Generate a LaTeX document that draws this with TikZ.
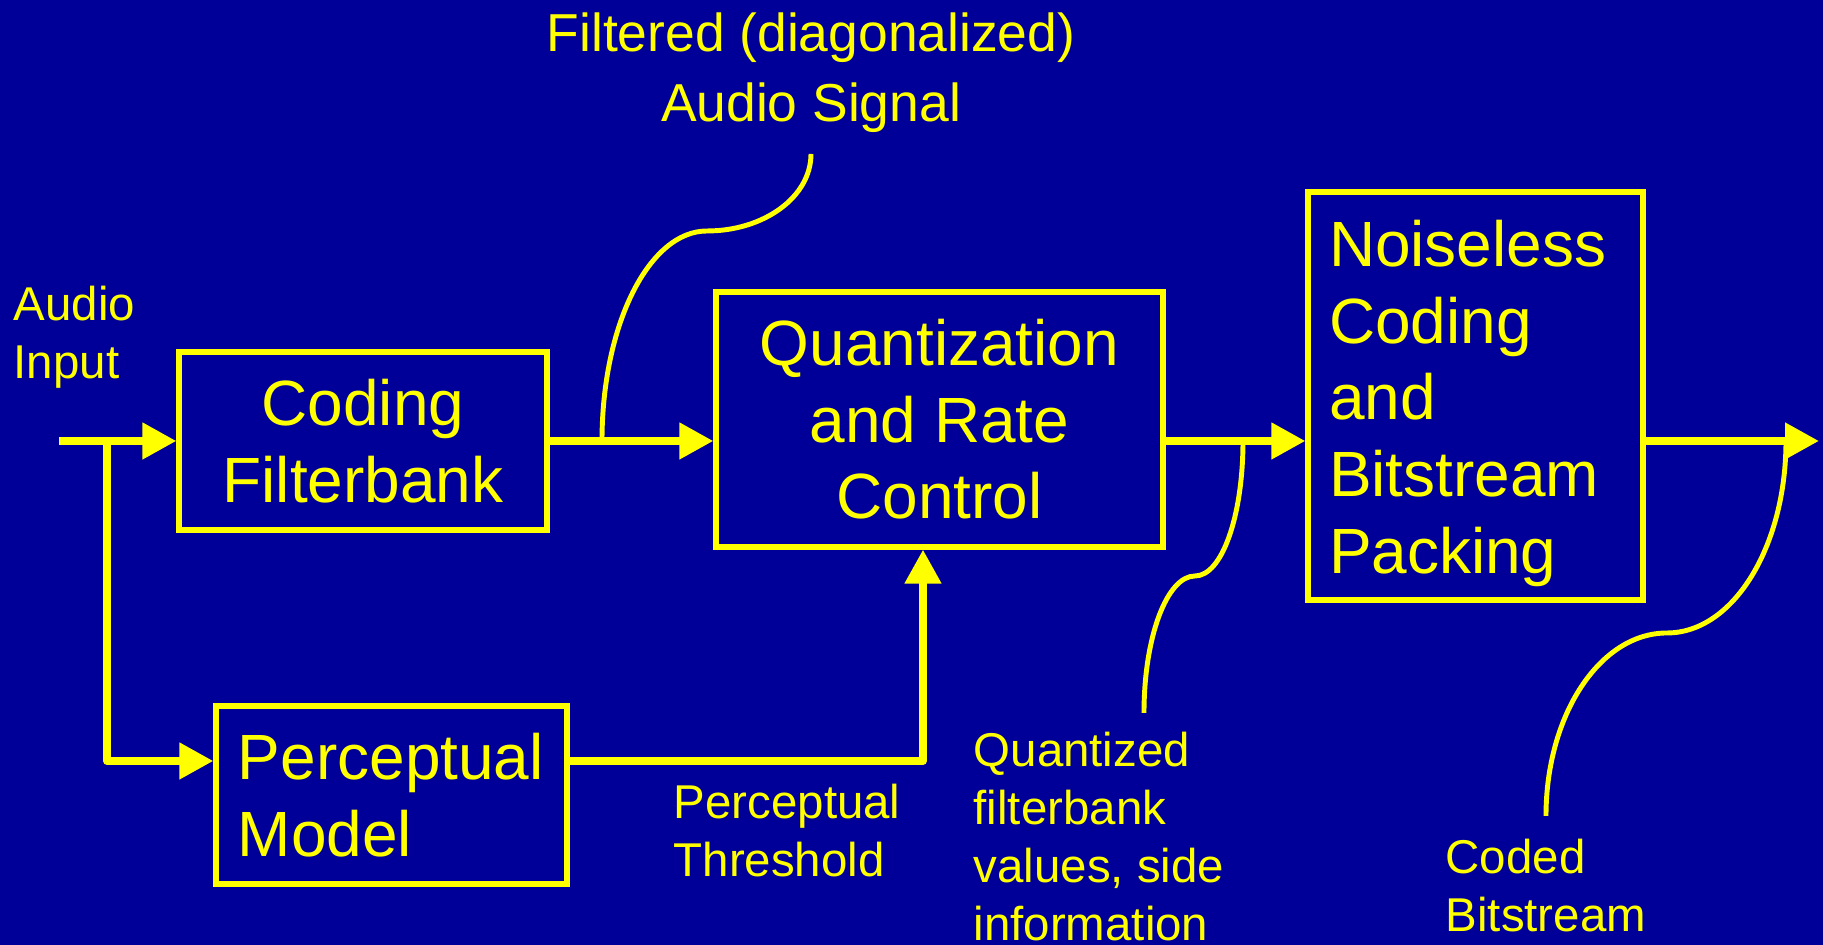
\documentclass[tikz,border=0pt]{standalone}
\usepackage{fontspec}
\setmainfont{Liberation Sans}
\usetikzlibrary{arrows.meta}

\definecolor{slideblue}{RGB}{0,0,153}
\definecolor{slideyellow}{RGB}{255,255,0}

\begin{document}
\begin{tikzpicture}[
    every node/.style={text=slideyellow, inner sep=0pt},
    block/.style={draw=slideyellow, line width=1.5pt, font=\fontsize{18.2}{21.8}\selectfont},
    note/.style={font=\fontsize{13.5}{16.5}\selectfont, align=left, anchor=north west},
    flow/.style={draw=slideyellow, line width=2.2pt, line join=round,
      -{Triangle[length=0.34cm,width=0.35cm]}},
    lead/.style={draw=slideyellow, line width=1.4pt}
  ]

  %% Background
  \useasboundingbox[fill=slideblue] (0,0) rectangle (18.23,9.45);

  %% Blocks
  \node[block, minimum width=3.68cm, minimum height=1.78cm, align=center] (cfb) at (3.63,5.04) {Coding\\Filterbank};
  \node[block, minimum width=4.47cm, minimum height=2.55cm, align=center] (qrc) at (9.395,5.255) {Quantization\\and Rate\\Control};
  \node[block, minimum width=3.35cm, minimum height=4.08cm, text width=2.93cm, inner xsep=0.21cm, align=left] (nbp) at (14.755,5.49) {\rule{0pt}{0.61cm}Noiseless\\Coding\\and\\Bitstream\\Packing};
  \node[block, minimum width=3.51cm, minimum height=1.78cm, text width=3.07cm, inner xsep=0.22cm, align=left] (pm) at (3.915,1.50) {Perceptual\\Model};

  %% Labels
  \node[note] (ain) at (0.13,6.60) {Audio\\Input};
  \node[note, font=\fontsize{15.2}{19.9}\selectfont, align=center, anchor=north] (fas) at (8.11,9.33) {Filtered (diagonalized)\\Audio Signal};
  \node[note] (pth) at (6.73,1.62) {Perceptual\\Threshold};
  \node[note] (qfv) at (9.73,2.14) {Quantized\\filterbank\\values, side\\information};
  \node[note] (cbs) at (14.45,1.07) {Coded\\Bitstream};

  %% Signal path
  \coordinate (src) at (0.59,5.04);
  \coordinate (split) at (1.07,5.04);
  \coordinate (tap) at (1.07,1.84);
  \coordinate (thr) at (9.23,1.84);
  \coordinate (sink) at (18.19,5.04);

  \draw[flow] (src) -- (cfb);
  \draw[flow] (split) -- (tap) -- (tap -| pm.west);
  \draw[flow] (cfb) -- (cfb -| qrc.west);
  \draw[flow] (tap -| pm.east) -- (thr) -- (thr |- qrc.south);
  \draw[flow] (qrc.east |- src) -- (nbp.west |- src);
  \draw[flow] (nbp.east |- src) -- (sink);

  %% Leaders from labels to lines
  \coordinate (fasTop) at (8.11,7.91);
  \coordinate (fasKnee) at (7.07,7.14);
  \coordinate (fasFoot) at (6.02,5.04);
  \draw[lead] (fasTop) .. controls +(0,-0.43) and +(0.57,0) .. (fasKnee)
    .. controls +(-0.58,0) and +(0,1.16) .. (fasFoot);

  \coordinate (qfvTop) at (12.43,5.04);
  \coordinate (qfvKnee) at (11.95,3.69);
  \coordinate (qfvFoot) at (11.44,2.32);
  \draw[lead] (qfvTop) .. controls +(0,-0.75) and +(0.27,0) .. (qfvKnee)
    .. controls +(-0.28,0) and +(0,0.76) .. (qfvFoot);

  \coordinate (cbsTop) at (17.86,5.04);
  \coordinate (cbsKnee) at (16.67,3.12);
  \coordinate (cbsFoot) at (15.46,1.29);
  \draw[lead] (cbsTop) .. controls +(0,-1.06) and +(0.66,0) .. (cbsKnee)
    .. controls +(-0.67,0) and +(0,1.01) .. (cbsFoot);

\end{tikzpicture}
\end{document}
